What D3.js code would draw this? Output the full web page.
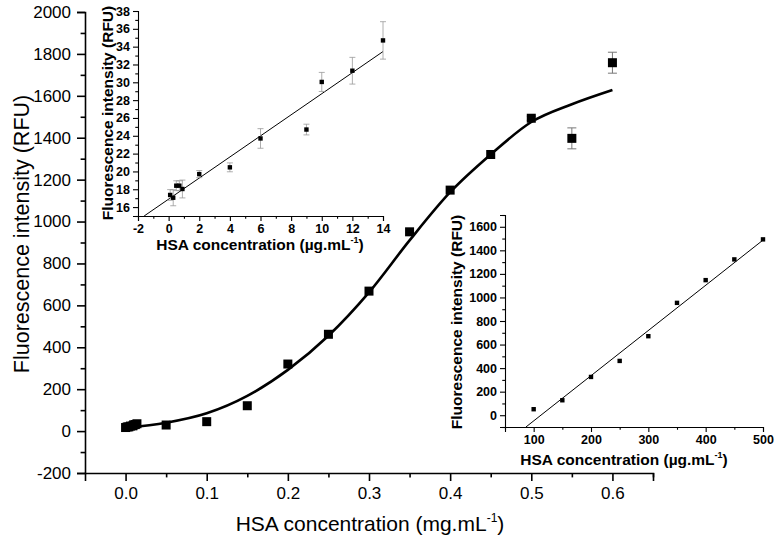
<!DOCTYPE html>
<html><head><meta charset="utf-8">
<script src="https://cdn.jsdelivr.net/npm/d3@7"></script>
<style>body{margin:0;background:#fff}svg{display:block}</style>
</head><body><svg id="c" width="777" height="554"></svg>
<script>
// ---- Main chart data (mg/mL vs RFU)
const mainX = [0, 0.002, 0.004, 0.006, 0.009, 0.010, 0.012, 0.014, 0.05, 0.1, 0.15, 0.2, 0.25, 0.3, 0.35, 0.4, 0.45, 0.5, 0.55, 0.6];
const mainY = [17, 20, 20, 24, 25, 30, 31, 35, 29, 45, 121, 320, 462, 668, 951, 1150, 1320, 1493, 1397, 1758];
const mainErr = [0, 0, 0, 0, 0, 0, 0, 0, 0, 0, 0, 0, 0, 0, 0, 0, 0, 10, 50, 50];
const curveX = [0, 0.05, 0.1, 0.15, 0.2, 0.25, 0.3, 0.35, 0.4, 0.45, 0.5, 0.55, 0.6];
const curveY = [15, 40, 85, 168, 292, 455, 662, 910, 1140, 1320, 1475, 1560, 1628];
const mainYTicks = [-200, 0, 200, 400, 600, 800, 1000, 1200, 1400, 1600, 1800, 2000];
const mainXTicks = [0.0, 0.1, 0.2, 0.3, 0.4, 0.5, 0.6];

// ---- Inset 1 (µg/mL, low range)
const in1X = [0.1, 0.3, 0.5, 0.7, 0.9, 2, 4, 6, 9, 10, 12, 14];
const in1Y = [17.36, 17.05, 18.4, 18.4, 18.03, 19.7, 20.46, 23.7, 24.7, 30.04, 31.3, 34.7];
const in1Err = [0.6, 0.9, 0.55, 0.55, 1.0, 0.4, 0.5, 1.1, 0.6, 1.07, 1.5, 2.1];
const in1FitX = [-1.6, 14];
const in1FitY = [15, 33.45];
const in1YTicks = [16, 18, 20, 22, 24, 26, 28, 30, 32, 34, 36, 38];
const in1XTicks = [-2, 0, 2, 4, 6, 8, 10, 12, 14];

// ---- Inset 2 (µg/mL, high range)
const in2X = [100, 150, 200, 250, 300, 350, 400, 450, 500];
const in2Y = [51, 127, 325, 461, 671, 954, 1147, 1323, 1493];
const in2FitX = [86.5, 500];
const in2FitY = [-100, 1487];
const in2YTicks = [0, 200, 400, 600, 800, 1000, 1200, 1400, 1600];
const in2XTicks = [100, 200, 300, 400, 500];

const svg = d3.select("#c");
const F = "Liberation Sans, Arial, sans-serif";

function axes(g, x, y, o) {
  const ya = d3.axisLeft(y).tickValues(o.yTicks).tickSizeOuter(0).tickSize(o.tick).tickPadding(o.pad).tickFormat(o.yFmt || (d => d));
  const gy = g.append("g").attr("transform", `translate(${x.range()[0]},0)`).call(ya);
  const yminor = d3.axisLeft(y).tickValues(o.yMinor).tickSize(o.tick * 0.55).tickFormat("").tickSizeOuter(0);
  g.append("g").attr("transform", `translate(${x.range()[0]},0)`).call(yminor).select(".domain").remove();
  const xa = d3.axisBottom(x).tickValues(o.xTicks).tickSizeOuter(0).tickSize(o.tick).tickPadding(o.pad).tickFormat(o.xFmt || (d => d));
  const gx = g.append("g").attr("transform", `translate(0,${y.range()[0]})`).call(xa);
  const xminor = d3.axisBottom(x).tickValues(o.xMinor).tickSize(o.tick * 0.55).tickFormat("").tickSizeOuter(0);
  g.append("g").attr("transform", `translate(0,${y.range()[0]})`).call(xminor).select(".domain").remove();
  [gx, gy].forEach(a => {
    a.selectAll("text").attr("font-family", F).attr("font-size", o.fs).attr("font-weight", o.fw).attr("fill", "#000");
    a.select(".domain").attr("stroke", "#000").attr("stroke-width", o.sw);
  });
  g.selectAll("line").attr("stroke", "#000").attr("stroke-width", o.sw);
}

function range(a, b, s) { const r = []; for (let v = a; v <= b + 1e-9; v += s) r.push(+v.toFixed(6)); return r; }

// ================= MAIN =================
const mx = d3.scaleLinear().domain([-0.05, 0.65]).range([85, 653]);
const my = d3.scaleLinear().domain([-200, 2000]).range([473, 12]);
const gm = svg.append("g");
axes(gm, mx, my, {
  yTicks: mainYTicks, yMinor: range(-100, 1900, 200), xTicks: mainXTicks, xMinor: [0.05, 0.15, 0.25, 0.35, 0.45, 0.55, 0.65],
  tick: 8, pad: 6, fs: 17, fw: "normal", sw: 1.6, xFmt: d3.format(".1f")
});
gm.append("path").datum(curveX.map((v, i) => [v, curveY[i]]))
  .attr("d", d3.line().x(d => mx(d[0])).y(d => my(d[1])).curve(d3.curveMonotoneX))
  .attr("fill", "none").attr("stroke", "#000").attr("stroke-width", 2.6);
const mainPts = mainX.map((v, i) => ({x: v, y: mainY[i], e: mainErr[i]}));
const eb = gm.append("g").attr("stroke", "#777").attr("stroke-width", 1);
mainPts.filter(d => d.e > 0).forEach(d => {
  const cx = mx(d.x);
  eb.append("line").attr("x1", cx).attr("x2", cx).attr("y1", my(d.y + d.e)).attr("y2", my(d.y - d.e));
  eb.append("line").attr("x1", cx - 4.5).attr("x2", cx + 4.5).attr("y1", my(d.y + d.e)).attr("y2", my(d.y + d.e));
  eb.append("line").attr("x1", cx - 4.5).attr("x2", cx + 4.5).attr("y1", my(d.y - d.e)).attr("y2", my(d.y - d.e));
});
gm.selectAll("rect.m").data(mainPts).join("rect").attr("class", "m")
  .attr("x", d => mx(d.x) - 4.5).attr("y", d => my(d.y) - 4.5).attr("width", 9).attr("height", 9).attr("fill", "#000");
gm.append("text").attr("transform", "translate(29,234) rotate(-90)").attr("text-anchor", "middle")
  .attr("font-family", F).attr("font-size", 21.5).text("Fluorescence intensity (RFU)");
const mt = gm.append("text").attr("x", 370).attr("y", 531).attr("text-anchor", "middle").attr("font-family", F).attr("font-size", 21);
mt.append("tspan").text("HSA concentration (mg.mL");
mt.append("tspan").attr("font-size", 12).attr("dy", -9).text("-1");
mt.append("tspan").attr("dy", 9).text(")");

// ================= INSET 1 =================
const ax = d3.scaleLinear().domain([-2, 14]).range([138, 383]);
const ay = d3.scaleLinear().domain([15, 38]).range([216, 11]);
const g1 = svg.append("g");
axes(g1, ax, ay, {
  yTicks: in1YTicks, yMinor: range(15, 37, 2), xTicks: in1XTicks, xMinor: range(-1, 13, 2),
  tick: 5, pad: 3, fs: 12.5, fw: "bold", sw: 1.1
});
g1.append("path").datum(in1FitX.map((v, i) => [v, in1FitY[i]]))
  .attr("d", d3.line().x(d => ax(d[0])).y(d => ay(d[1]))).attr("stroke", "#000").attr("stroke-width", 1).attr("fill", "none");
const p1 = in1X.map((v, i) => ({x: v, y: in1Y[i], e: in1Err[i]}));
const eb1 = g1.append("g").attr("stroke", "#999").attr("stroke-width", 0.8);
p1.forEach(d => {
  const cx = ax(d.x);
  eb1.append("line").attr("x1", cx).attr("x2", cx).attr("y1", ay(d.y + d.e)).attr("y2", ay(d.y - d.e));
  eb1.append("line").attr("x1", cx - 3).attr("x2", cx + 3).attr("y1", ay(d.y + d.e)).attr("y2", ay(d.y + d.e));
  eb1.append("line").attr("x1", cx - 3).attr("x2", cx + 3).attr("y1", ay(d.y - d.e)).attr("y2", ay(d.y - d.e));
});
g1.selectAll("rect.p").data(p1).join("rect").attr("class", "p")
  .attr("x", d => ax(d.x) - 2.2).attr("y", d => ay(d.y) - 2.2).attr("width", 4.4).attr("height", 4.4).attr("fill", "#000");
g1.append("text").attr("transform", "translate(113,113) rotate(-90)").attr("text-anchor", "middle")
  .attr("font-family", F).attr("font-size", 15.5).attr("font-weight", "bold").text("Fluorescence intensity (RFU)");
const t1 = g1.append("text").attr("x", 260).attr("y", 250).attr("text-anchor", "middle").attr("font-family", F).attr("font-size", 15.5).attr("font-weight", "bold");
t1.append("tspan").text("HSA concentration (µg.mL");
t1.append("tspan").attr("font-size", 9).attr("dy", -7).text("-1");
t1.append("tspan").attr("dy", 7).text(")");

// ================= INSET 2 =================
const bx = d3.scaleLinear().domain([50, 500]).range([505, 763]);
const by = d3.scaleLinear().domain([-100, 1700]).range([427, 215]);
const g2 = svg.append("g");
axes(g2, bx, by, {
  yTicks: in2YTicks, yMinor: range(-100, 1700, 200), xTicks: in2XTicks, xMinor: range(50, 450, 100),
  tick: 5, pad: 3, fs: 12.5, fw: "bold", sw: 1.1
});
g2.append("path").datum(in2FitX.map((v, i) => [v, in2FitY[i]]))
  .attr("d", d3.line().x(d => bx(d[0])).y(d => by(d[1]))).attr("stroke", "#000").attr("stroke-width", 1).attr("fill", "none");
const p2 = in2X.map((v, i) => ({x: v, y: in2Y[i]}));
g2.selectAll("rect.p").data(p2).join("rect").attr("class", "p")
  .attr("x", d => bx(d.x) - 2.2).attr("y", d => by(d.y) - 2.2).attr("width", 4.4).attr("height", 4.4).attr("fill", "#000");
g2.append("text").attr("transform", "translate(462,322) rotate(-90)").attr("text-anchor", "middle")
  .attr("font-family", F).attr("font-size", 15.5).attr("font-weight", "bold").text("Fluorescence intensity (RFU)");
const t2 = g2.append("text").attr("x", 624).attr("y", 465).attr("text-anchor", "middle").attr("font-family", F).attr("font-size", 15.5).attr("font-weight", "bold");
t2.append("tspan").text("HSA concentration (µg.mL");
t2.append("tspan").attr("font-size", 9).attr("dy", -7).text("-1");
t2.append("tspan").attr("dy", 7).text(")");
</script></body></html>
